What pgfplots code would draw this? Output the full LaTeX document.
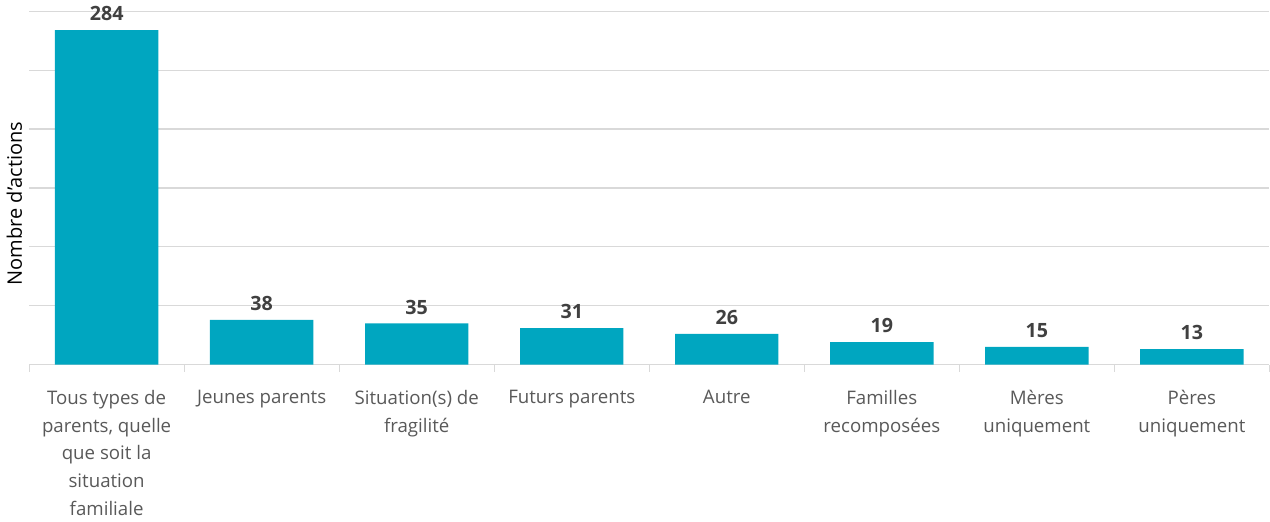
\documentclass[border=0pt]{standalone}
\usepackage{fontspec}
\setmainfont{Open Sans}
\usepackage{pgfplots}
\pgfplotsset{compat=1.18}

\definecolor{barblue}{RGB}{0,166,192}
\definecolor{gridgray}{RGB}{217,217,217}
\definecolor{labgray}{RGB}{89,89,89}
\definecolor{valgray}{RGB}{64,64,64}

\begin{document}
\begin{tikzpicture}
\begin{axis}[
  scale only axis,
  width=618bp, height=176bp,
  xmin=-0.5, xmax=7.5,
  ymin=0, ymax=300,
  ytick={0,50,...,300},
  yticklabels={},
  ymajorgrids,
  major grid style={gridgray, line width=0.6pt},
  major y tick style={draw=none},
  axis x line*=bottom,
  axis y line*=left,
  y axis line style={draw=none},
  x axis line style={gridgray, line width=0.6pt},
  xtick={0,...,7},
  major x tick style={draw=none},
  minor xtick={-0.5,0.5,...,7.5},
  minor tick length=3.5bp,
  tick align=outside,
  minor x tick style={gridgray, line width=0.6pt},
  xticklabels={
    {Tous types de\\parents, quelle\\que soit la\\situation\\familiale},
    {Jeunes parents},
    {Situation(s) de\\fragilité},
    {Futurs parents},
    {Autre},
    {Familles\\recomposées},
    {Mères\\uniquement},
    {Pères\\uniquement}},
  xticklabel style={align=center, font=\fontsize{9.3bp}{13.8bp}\selectfont,
    text=labgray, anchor=north, yshift=-5bp},
  ylabel={Nombre d'actions},
  ylabel style={font=\fontsize{7bp}{9bp}\selectfont, text=labgray},
  every axis y label/.style={at={(axis description cs:0,0.47)}, rotate=90, anchor=south, xshift=-2.5bp},
  ybar, bar width=0.667,
  nodes near coords,
  /pgf/number format/assume math mode=true,
  every node near coord/.append style={font=\bfseries\fontsize{9.8bp}{11bp}\selectfont,
    text=valgray, yshift=1bp},
  clip=false,
]
\addplot[fill=barblue, draw=none] coordinates {
  (0,284) (1,38) (2,35) (3,31) (4,26) (5,19) (6,15) (7,13)
};
\end{axis}
\end{tikzpicture}
\end{document}
